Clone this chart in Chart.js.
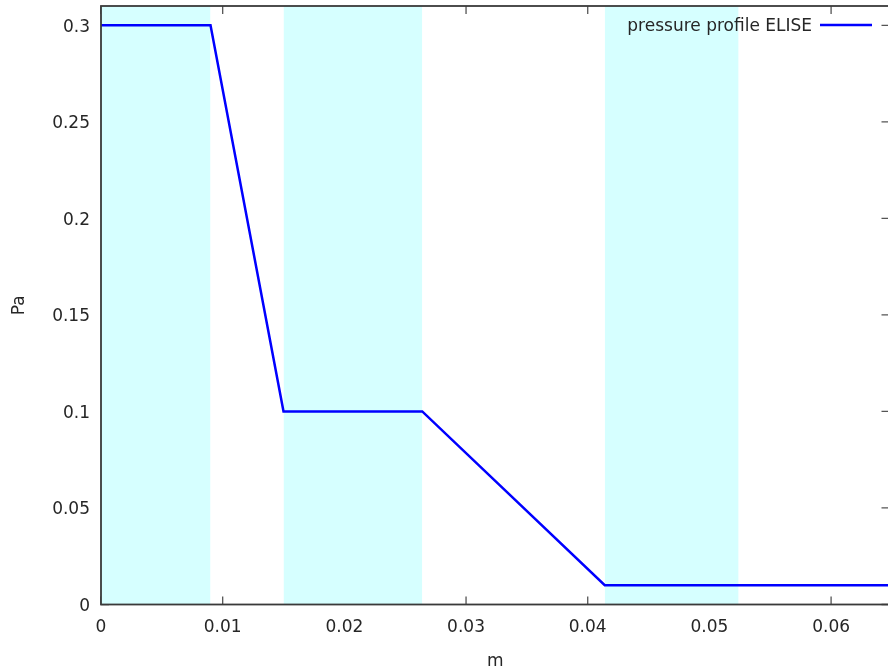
<!DOCTYPE html>
<html>
<head>
<meta charset="utf-8">
<script src="https://cdn.jsdelivr.net/npm/chart.js@4"></script>
<style>
  html, body { margin:0; padding:0; overflow:hidden; background:#fff; }
  #wrap { width:892px; height:672px; position:relative; }
</style>
</head>
<body>
<div id="wrap"><canvas id="chart"></canvas></div>
<script>
// -------- data --------
const profileX = [0, 0.009, 0.015, 0.0264, 0.0414, 0.0648];   // m
const profileY = [0.3, 0.3, 0.1, 0.1, 0.01, 0.01];             // Pa
const bandStart = [0, 0.015, 0.0414];                          // shaded spans (m)
const bandEnd   = [0.009, 0.0264, 0.0524];
const xTicks = [0, 0.01, 0.02, 0.03, 0.04, 0.05, 0.06];
const yTicks = [0, 0.05, 0.1, 0.15, 0.2, 0.25, 0.3];
const xMax = 0.0648, yMax = 0.31;
const seriesLabel = 'pressure profile ELISE';

const FONT = 'DejaVu Sans';
const TEXT = '#262626';
const fmt = v => String(+v.toFixed(4));

// shaded bands as filled line datasets (fill down to the scale start)
const bands = bandStart.map((s, i) => ({
  data: [{ x: s, y: yMax }, { x: bandEnd[i], y: yMax }],
  fill: 'start',
  backgroundColor: '#d6ffff',
  borderWidth: 0,
  pointRadius: 0,
  order: 2
}));

// gnuplot-style frame: inward ticks on all sides, border on top, legend in top right
const frame = {
  id: 'frame',
  beforeDatasetsDraw(chart) {
    const { ctx, chartArea: a, scales: { x, y } } = chart;
    ctx.save();
    ctx.strokeStyle = '#555';
    ctx.lineWidth = 1.3;
    ctx.beginPath();
    xTicks.forEach(v => {
      const px = x.getPixelForValue(v);
      ctx.moveTo(px, a.bottom); ctx.lineTo(px, a.bottom - 8);
      ctx.moveTo(px, a.top);    ctx.lineTo(px, a.top + 8);
    });
    yTicks.forEach(v => {
      const py = y.getPixelForValue(v);
      ctx.moveTo(a.left, py);  ctx.lineTo(a.left + 8, py);
      ctx.moveTo(a.right, py); ctx.lineTo(a.right - 8, py);
    });
    ctx.stroke();
    ctx.restore();
  },
  afterDatasetsDraw(chart) {
    const { ctx, chartArea: a, scales: { y } } = chart;
    ctx.save();
    ctx.strokeStyle = '#3a3a3a';
    ctx.lineWidth = 1.8;
    ctx.strokeRect(a.left, a.top, a.right - a.left, a.bottom - a.top);

    ctx.font = `17px "${FONT}"`;
    ctx.fillStyle = TEXT;
    ctx.textBaseline = 'middle';

    // y tick labels (sit a touch below the tick, like gnuplot)
    ctx.textAlign = 'right';
    yTicks.forEach(v => ctx.fillText(fmt(v), a.left - 11, y.getPixelForValue(v) + 2));

    // legend
    ctx.fillText(seriesLabel, a.right - 77.5, a.top + 21);
    ctx.strokeStyle = '#0000ff';
    ctx.lineWidth = 2.5;
    ctx.beginPath();
    ctx.moveTo(a.right - 69.5, a.top + 19);
    ctx.lineTo(a.right - 17.5, a.top + 19);
    ctx.stroke();
    ctx.restore();
  }
};

new Chart(document.getElementById('chart'), {
  type: 'line',
  data: {
    datasets: [
      {
        label: seriesLabel,
        data: profileX.map((v, i) => ({ x: v, y: profileY[i] })),
        borderColor: '#0000ff',
        borderWidth: 2.5,
        pointRadius: 0,
        tension: 0,
        fill: false,
        order: 1
      },
      ...bands
    ]
  },
  options: {
    responsive: true,
    maintainAspectRatio: false,
    animation: false,
    layout: { padding: { top: 6, right: 2.5, left: 0, bottom: 0 } },
    plugins: { legend: { display: false }, tooltip: { enabled: false } },
    scales: {
      x: {
        type: 'linear',
        min: 0, max: xMax,
        grid: { display: false, drawTicks: false },
        border: { display: false },
        afterBuildTicks: s => { s.ticks = xTicks.map(v => ({ value: v })); },
        afterFit: s => { s.height = 67.5; s.paddingLeft = 0; s.paddingRight = 0; },
        ticks: { padding: 13, color: TEXT, font: { family: FONT, size: 17 }, callback: v => fmt(v), maxRotation: 0 },
        title: { display: true, text: 'm', color: TEXT, font: { family: FONT, size: 17 }, padding: { top: 0, bottom: 0 } }
      },
      y: {
        min: 0, max: yMax,
        grid: { display: false, drawTicks: false },
        border: { display: false },
        afterBuildTicks: s => { s.ticks = yTicks.map(v => ({ value: v })); },
        afterFit: s => { s.width = 101; s.paddingTop = 0; s.paddingBottom = 0; },
        ticks: { display: false },
        title: { display: true, text: 'Pa', color: TEXT, font: { family: FONT, size: 17 }, padding: { top: 9, bottom: 0 } }
      }
    }
  },
  plugins: [frame]
});
</script>
</body>
</html>
